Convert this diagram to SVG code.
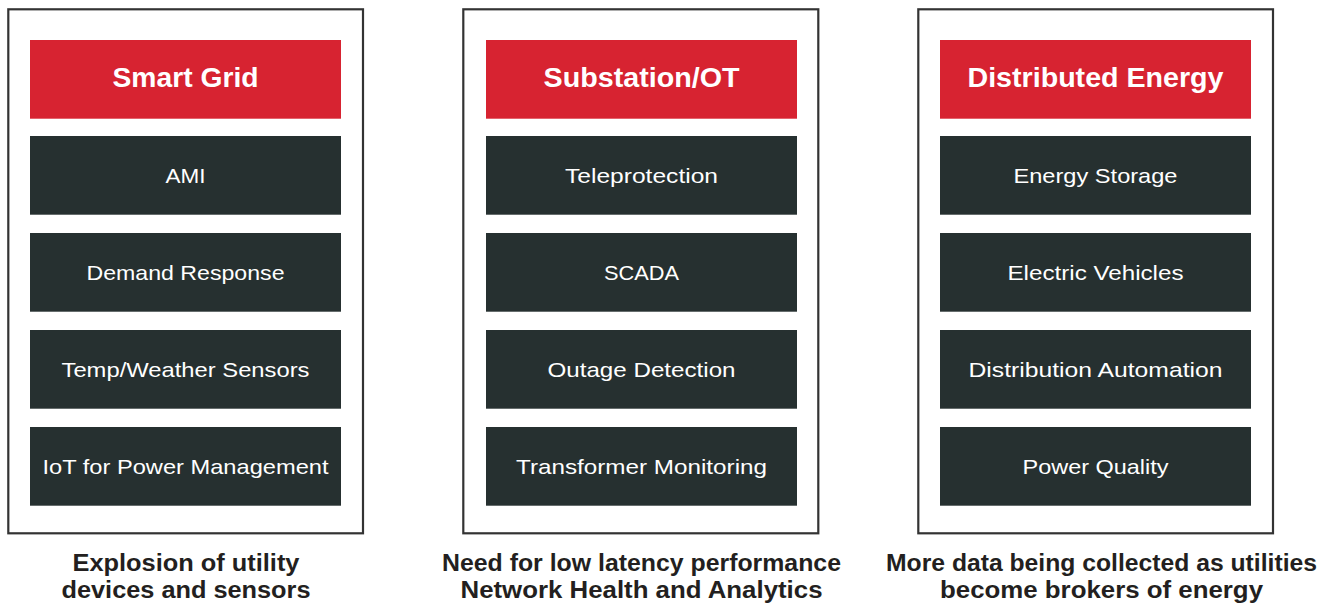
<svg xmlns="http://www.w3.org/2000/svg" width="1331" height="604" viewBox="0 0 1331 604">
<style>
.frame{fill:#fff;stroke:#333;stroke-width:2.2}
.hdr{fill:#d72331}
.itm{fill:#263030}
.ht{font-family:"Liberation Sans",Arial,sans-serif;font-weight:bold;font-size:28px;fill:#fff;text-anchor:middle}
.it{font-family:"Liberation Sans",Arial,sans-serif;font-size:21px;fill:#fff;text-anchor:middle}
.cap{font-family:"Liberation Sans",Arial,sans-serif;font-weight:bold;font-size:23px;fill:#231f20;text-anchor:middle}
</style>
<rect width="1331" height="604" fill="#fff"/>
<g id="col-smart-grid">
<rect class="frame" x="8.3" y="9.3" width="354.7" height="524"/>
<rect class="hdr" x="30" y="40" width="311" height="78.7"/>
<text class="ht" x="185.5" y="87" textLength="146" lengthAdjust="spacingAndGlyphs">Smart Grid</text>
<rect class="itm" x="30" y="136" width="311" height="78.7"/>
<text class="it" x="185.5" y="183" textLength="40" lengthAdjust="spacingAndGlyphs">AMI</text>
<rect class="itm" x="30" y="233" width="311" height="78.7"/>
<text class="it" x="185.5" y="280" textLength="198" lengthAdjust="spacingAndGlyphs">Demand Response</text>
<rect class="itm" x="30" y="330" width="311" height="78.7"/>
<text class="it" x="185.5" y="377" textLength="248" lengthAdjust="spacingAndGlyphs">Temp/Weather Sensors</text>
<rect class="itm" x="30" y="427" width="311" height="78.7"/>
<text class="it" x="185.5" y="474" textLength="286" lengthAdjust="spacingAndGlyphs">IoT for Power Management</text>
<text class="cap" x="186" y="571" textLength="227" lengthAdjust="spacingAndGlyphs">Explosion of utility</text>
<text class="cap" x="186" y="598" textLength="249" lengthAdjust="spacingAndGlyphs">devices and sensors</text>
</g>
<g id="col-substation">
<rect class="frame" x="463.3" y="9.3" width="355" height="524"/>
<rect class="hdr" x="486" y="40" width="311" height="78.7"/>
<text class="ht" x="641.5" y="87" textLength="196" lengthAdjust="spacingAndGlyphs">Substation/OT</text>
<rect class="itm" x="486" y="136" width="311" height="78.7"/>
<text class="it" x="641.5" y="183" textLength="153" lengthAdjust="spacingAndGlyphs">Teleprotection</text>
<rect class="itm" x="486" y="233" width="311" height="78.7"/>
<text class="it" x="641.5" y="280" textLength="75" lengthAdjust="spacingAndGlyphs">SCADA</text>
<rect class="itm" x="486" y="330" width="311" height="78.7"/>
<text class="it" x="641.5" y="377" textLength="188" lengthAdjust="spacingAndGlyphs">Outage Detection</text>
<rect class="itm" x="486" y="427" width="311" height="78.7"/>
<text class="it" x="641.5" y="474" textLength="251" lengthAdjust="spacingAndGlyphs">Transformer Monitoring</text>
<text class="cap" x="641.5" y="571" textLength="399" lengthAdjust="spacingAndGlyphs">Need for low latency performance</text>
<text class="cap" x="641.5" y="598" textLength="362" lengthAdjust="spacingAndGlyphs">Network Health and Analytics</text>
</g>
<g id="col-distributed-energy">
<rect class="frame" x="918.3" y="9.3" width="354.7" height="524"/>
<rect class="hdr" x="940" y="40" width="311" height="78.7"/>
<text class="ht" x="1095.5" y="87" textLength="256" lengthAdjust="spacingAndGlyphs">Distributed Energy</text>
<rect class="itm" x="940" y="136" width="311" height="78.7"/>
<text class="it" x="1095.5" y="183" textLength="164" lengthAdjust="spacingAndGlyphs">Energy Storage</text>
<rect class="itm" x="940" y="233" width="311" height="78.7"/>
<text class="it" x="1095.5" y="280" textLength="176" lengthAdjust="spacingAndGlyphs">Electric Vehicles</text>
<rect class="itm" x="940" y="330" width="311" height="78.7"/>
<text class="it" x="1095.5" y="377" textLength="254" lengthAdjust="spacingAndGlyphs">Distribution Automation</text>
<rect class="itm" x="940" y="427" width="311" height="78.7"/>
<text class="it" x="1095.5" y="474" textLength="146" lengthAdjust="spacingAndGlyphs">Power Quality</text>
<text class="cap" x="1101.5" y="571" textLength="431" lengthAdjust="spacingAndGlyphs">More data being collected as utilities</text>
<text class="cap" x="1101.5" y="598" textLength="323" lengthAdjust="spacingAndGlyphs">become brokers of energy</text>
</g>
<g id="connectors"/>
</svg>
